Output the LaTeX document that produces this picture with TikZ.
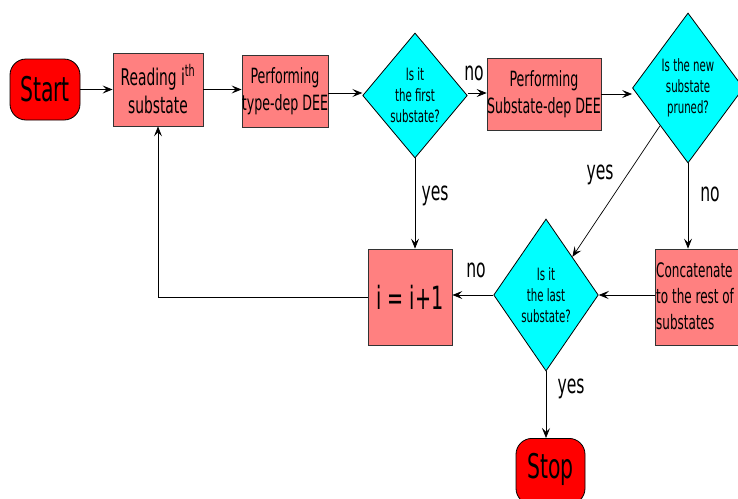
\documentclass[tikz,border=0pt]{standalone}
\usepackage{fontspec}
\setmainfont{DejaVu Sans}[FakeStretch=0.6]
\usetikzlibrary{shapes.geometric,arrows.meta}
\definecolor{salmon}{HTML}{FF8080}
\definecolor{aqua}{HTML}{00FFFF}
\definecolor{redfill}{HTML}{FF0000}
\definecolor{edge}{HTML}{333333}
\tikzset{
  proc/.style={draw=edge, fill=salmon, line width=0.8pt, inner sep=0pt, align=center},
  decis/.style={diamond, draw=black, fill=aqua, line width=0.8pt, inner sep=0pt, align=center,
    font=\fontsize{17}{21}\selectfont},
  term/.style={draw=black, fill=redfill, rounded corners=16pt, line width=0.8pt, inner sep=0pt,
    font=\fontsize{34}{38}\selectfont},
  conn/.style={draw=black, line width=0.7pt, -{Stealth[length=10pt,width=8pt,inset=4pt]}},
  lbl/.style={font=\fontsize{26}{28}\selectfont, inner sep=0pt}
}
\begin{document}
\begin{tikzpicture}[x=1pt,y=-1pt]
\useasboundingbox (0,0) rectangle (738,498);
\clip (0,0) rectangle (738,498);
% nodes
\node[term, minimum width=70pt, minimum height=61pt] (start) at (45,89.5) {Start};
\node[proc, minimum width=90pt, minimum height=73pt, font=\fontsize{23}{28}\selectfont] (read) at (158,89.5) {Reading i\textsuperscript{th}\\substate};
\node[proc, minimum width=86pt, minimum height=72pt, font=\fontsize{21}{27}\selectfont] (typedep) at (285,91) {Performing\\type-dep DEE};
\node[decis, minimum width=98pt, minimum height=125pt] (d1) at (415,95.5) {Is it\\the first\\substate?};
\node[proc, minimum width=110pt, minimum height=72pt, font=\fontsize{21}{27}\selectfont] (subdep) at (544,94) {Performing\\Substate-dep DEE};
\node[decis, minimum width=101pt, minimum height=150pt] (d2) at (688,88) {Is the new\\substate\\pruned?};
\node[proc, minimum width=90pt, minimum height=96pt, anchor=west] (concat) at (655,297) {};
\node[anchor=west, align=left, inner sep=0pt, font=\fontsize{20}{26}\selectfont] (concattxt) at (656,296) {Concatenate\\to the rest of\\substates};
\node[decis, minimum width=102pt, minimum height=152pt] (d3) at (546,295) {Is it\\the last\\substate?};
\node[proc, minimum width=84pt, minimum height=96pt, font=\fontsize{32}{36}\selectfont] (incr) at (410,297) {i = i+1};
\node[term, minimum width=69pt, minimum height=66pt, anchor=north] (stop) at (550.5,438) {};
\node[font=\fontsize{34}{38}\selectfont, inner sep=0pt] (stoptxt) at (550.5,469) {Stop};
\coordinate (corner) at (158,297);
% connectors
\draw[conn] (start) -- (read);
\draw[conn] (read) -- (read -| typedep.west);
\draw[conn] (typedep.east |- 0,93) -- (d1.west |- 0,93);
\draw[conn] (d1.east |- 0,93) -- (subdep.west |- 0,93);
\draw[conn] (subdep.east |- 0,94) -- (d2.west |- 0,94);
\draw[conn] (d1.south) -- (d1.south |- incr.north);
\draw[conn] (d2.south) -- (d2.south |- concat.north);
\draw[conn] (d2.south west) -- (d3.north east);
\draw[conn] (concat.west |- d3.east) -- (d3.east);
\draw[conn] (d3.west) -- (incr.east |- d3.west);
\draw[conn] (incr.west) -- (corner) -- (read.south);
\draw[conn] (d3.south) -- (d3.south |- stop.north);
% labels
\node[lbl] (l1) at (474,73) {no};
\node[lbl] (l2) at (435,196) {yes};
\node[lbl] (l3) at (600,175) {yes};
\node[lbl] (l4) at (710,194) {no};
\node[lbl] (l5) at (476,270) {no};
\node[lbl] (l6) at (571,389) {yes};
\end{tikzpicture}
\end{document}
